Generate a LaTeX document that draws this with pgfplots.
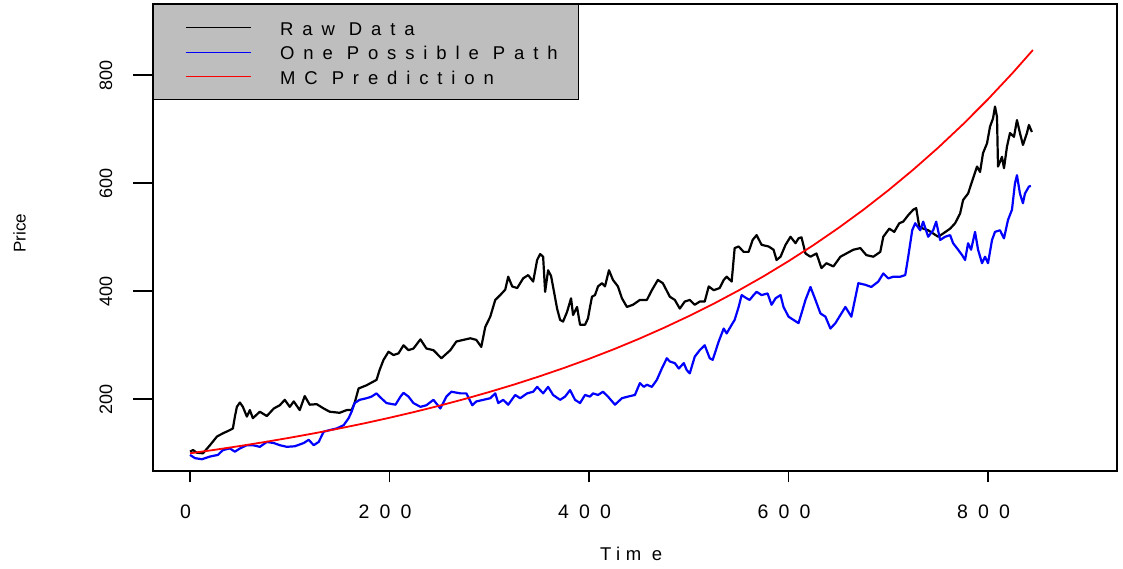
\documentclass[border=0pt]{standalone}
\usepackage{fontspec}
\setmainfont{Liberation Sans}
\newfontfamily\legfont[LetterSpace=48]{Liberation Sans}
\newfontfamily\tickfont[LetterSpace=52]{Liberation Sans}
\newfontfamily\timefont[LetterSpace=30]{Liberation Sans}
\usepackage{pgfplots}
\pgfplotsset{compat=1.18}
\definecolor{leggray}{RGB}{190,190,190}
\definecolor{pblue}{RGB}{0,0,255}
\definecolor{pred}{RGB}{255,0,0}
\begin{document}
\begin{tikzpicture}
\path (0,0) rectangle (1123pt,569pt);
\begin{axis}[
  at={(153pt,97.5pt)}, anchor=south west,
  scale only axis, width=964pt, height=467.5pt,
  xmin=-37.1, xmax=929.3, ymin=66.3, ymax=932,
  axis line style={line width=2pt},
  tick style={line width=1.6pt, black},
  tick align=outside, xtick pos=bottom, ytick pos=left,
  xtick={0,200,400,600,800}, xticklabels={0,200,400,600,800},
  ytick={200,400,600,800}, yticklabels={200,400,600,800},
  major tick length=11pt,
  ytick style={/pgfplots/major tick length=20pt},
  xticklabel style={font=\tickfont\fontsize{19.5}{19.5}\selectfont, anchor=base, xshift=-4.5pt},
  xticklabel shift=36pt,
  yticklabel style={font=\fontsize{18}{18}\selectfont, rotate=90, anchor=base},
  yticklabel shift=30pt,
  xlabel={Tim e}, ylabel={Price},
  xlabel style={font=\timefont\fontsize{18.5}{18.5}\selectfont, at={(axis description cs:0.496,-0.1765)}, anchor=center},
  ylabel style={font=\fontsize{17}{17}\selectfont, at={(axis description cs:-0.1385,0.51)}, anchor=center},
  legend style={at={(0,1)}, anchor=north west, draw=black, line width=1.2pt,
    fill=leggray, inner xsep=21pt, inner ysep=12pt, row sep=2.5pt, column sep=29pt,
    font=\legfont\fontsize{18.5}{18.5}\selectfont, cells={anchor=west},
    nodes={inner sep=0pt, text height=18.6pt, text depth=3.4pt}},
  legend image code/.code={\path[draw=none,fill=none] (0pt,-2pt) rectangle (76pt,2pt); \draw[#1,line width=1pt] (11pt,0pt) -- (76pt,0pt);},
]
\addplot[black, line width=2.2pt, line join=round] coordinates {
(0,103) (3,106) (7,101) (13,100) (20,115) (27,131) (33,137) (40,143) (43,146) (45,168) (47,186) (50,194) (53,186) (57,168) (60,180) (63,165) (70,177) (77,169) (84,183) (90,189) (95,199) (100,186) (104,196) (110,180) (115,206) (120,190) (127,191) (134,183) (140,177) (150,175) (157,180) (162,180) (165,193) (169,220) (177,226) (187,236) (190,254) (194,273) (199,288)
(204,282) (209,285) (214,300) (219,291) (224,294) (231,311) (237,294) (244,291) (252,276) (261,291) (267,307) (274,310) (281,313) (287,310) (292,297) (296,334) (301,353) (306,384) (311,393) (316,403) (319,427) (323,409) (328,406) (334,424) (339,430) (344,418) (348,458) (351,469) (354,464) (356,399) (359,439) (362,428) (368,368) (371,347) (374,344) (378,362) (382,387) (384,356) (388,371) (391,338) (396,338) (399,350) (401,371)
(403,390) (406,393) (409,409) (413,415) (416,409) (420,439) (424,421) (429,409) (433,387) (438,371) (444,375) (451,384) (458,384) (463,402) (469,421) (474,415) (481,390) (486,384) (491,368) (496,381) (501,384) (506,375) (511,381) (516,381) (520,409) (525,402) (531,406) (535,421) (538,427) (543,418) (546,480) (550,483) (555,473) (560,473) (564,495) (568,504) (573,486) (580,483) (585,477) (588,458) (592,464) (597,486)
(602,501) (607,489) (610,498) (613,500) (617,470) (622,464) (628,470) (633,443) (638,452) (645,446) (652,464) (658,470) (665,477) (672,480) (678,467) (685,464) (692,473) (695,501) (701,516) (706,510) (711,526) (715,529) (720,541) (725,551) (728,554) (731,520) (735,516) (740,513) (745,507) (750,501) (755,507) (762,516) (767,526) (772,544) (775,569) (780,581) (785,609) (789,631) (792,621) (795,656) (799,674)
(802,705) (805,720) (807,742) (809,723) (810,631) (814,649) (816,628) (819,668) (822,693) (826,686) (829,717) (832,693) (835,671) (839,693) (841,708) (844,695)
};
\addlegendentry{Raw Data}
\addplot[pblue, line width=2.2pt, line join=round] coordinates {
(0,97) (5,91) (12,89) (20,94) (28,97) (33,106) (40,109) (45,103) (50,109) (57,115) (63,115) (70,112) (77,121) (84,119) (90,115) (97,112) (105,113) (114,119) (119,125) (124,115) (129,121) (134,140) (140,143) (147,146) (154,152) (159,165) (162,177) (165,193) (170,199) (177,202) (182,205) (187,211) (190,205) (197,193)
(206,190) (211,205) (214,212) (219,205) (224,193) (231,186) (237,189) (244,199) (251,183) (257,205) (262,214) (271,211) (277,211) (283,189) (287,196) (294,199) (301,202) (306,211) (309,193) (314,199) (319,190) (326,208) (331,202) (338,211) (344,214) (348,223) (354,211) (359,223) (364,208) (371,199) (376,205) (381,217) (386,199) (391,193) (396,208)
(401,205) (404,211) (409,208) (414,214) (419,205) (426,190) (433,202) (439,205) (446,208) (451,230) (455,223) (458,227) (463,223) (468,236) (473,257) (478,276) (481,270) (486,267) (490,257) (495,267) (498,254) (501,248) (506,279) (511,291) (516,300) (521,276) (524,273) (530,307) (535,331) (538,322) (543,338) (546,347) (550,371) (553,393) (558,387) (561,384) (565,393) (568,399) (573,393) (579,396) (583,375) (587,387) (592,393) (595,371)
(600,353) (605,347) (610,341) (613,359) (617,384) (622,408) (627,384) (632,359) (637,353) (642,331) (647,341) (652,356) (657,371) (663,353) (670,415) (677,412) (683,408) (690,418) (695,433) (700,424) (705,427) (712,427) (717,430) (720,464) (724,513) (727,526) (732,513) (735,529) (740,501) (745,513) (748,529) (752,495) (757,501) (762,504) (765,489) (770,477) (774,467) (777,458) (780,489) (783,477) (787,510) (790,477) (794,452) (797,464)
(800,452) (804,495) (807,510) (812,513) (816,498) (820,532) (824,551) (827,600) (829,615) (832,581) (835,563) (837,581) (841,594) (843,595)
};
\addlegendentry{One Possible Path}
\addplot[pred, line width=1.8pt] coordinates {
(0,100) (25,106.5) (50,113.5) (75,120.9) (100,128.8) (125,137.2) (150,146.1) (175,155.6) (200,165.8) (225,176.6) (250,188.1) (275,200.4) (300,213.5) (325,227.4) (350,242.3) (375,258.1) (400,274.9) (425,292.8) (450,311.9) (475,332.3) (500,354.0) (525,377.0) (550,401.6) (575,427.8) (600,455.8) (625,485.5) (650,517.2) (675,550.9) (700,586.9) (725,625.2) (750,665.9) (775,709.4) (800,755.7) (825,805.0) (845,846.8)
};
\addlegendentry{MC Prediction}
\end{axis}
\end{tikzpicture}
\end{document}
